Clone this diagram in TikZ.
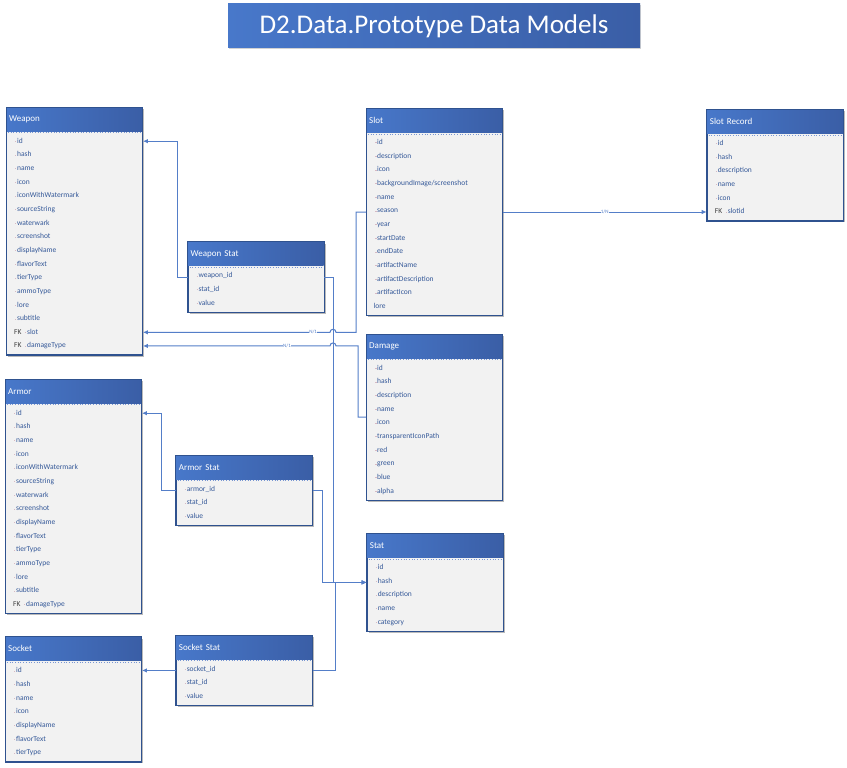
\documentclass[tikz,border=0pt]{standalone}
\usepackage{fontspec}
\setmainfont{Carlito}
\usetikzlibrary{calc,shadows,arrows.meta}
\definecolor{hdrL}{RGB}{72,120,202}
\definecolor{hdrR}{RGB}{58,94,166}
\definecolor{bodyc}{RGB}{242,242,242}
\definecolor{bordc}{RGB}{47,82,143}
\definecolor{rowc}{RGB}{52,88,152}
\definecolor{connc}{RGB}{84,126,200}
\definecolor{dotc}{RGB}{120,150,210}
\definecolor{tickc}{RGB}{215,185,195}
\makeatletter
\newcommand\tickmk{\textcolor{tickc}{\rule[1.6bp]{1.3bp}{0.5bp}}\kern0.6bp}
\newcommand\fk[1]{\makebox[10bp][l]{\kern-1bp\textcolor{black!75}{FK}}\tickmk#1}
\newcommand\nt{\kern-1.5bp}
\newcommand\tkx{\@ifnextchar\fk{}{\@ifnextchar\nt{}{\tickmk}}}
\makeatother
\tikzset{
 tbody/.style={draw=bordc, line width=0.9bp, fill=bodyc, minimum width=136bp, anchor=north west, inner sep=0pt,
   drop shadow={shadow xshift=1.6bp, shadow yshift=-1.6bp, fill=black!45, opacity=0.6}},
 thead/.style={left color=hdrL, right color=hdrR, minimum width=136bp, minimum height=24bp, anchor=north west,
   inner xsep=3bp, inner ysep=0pt, text width=130bp, align=left, text=white, font=\fontsize{9bp}{10bp}\selectfont},
 trow/.style={anchor=west, inner sep=0pt, text height=5.5bp, text depth=1.5bp, text=rowc, font=\fontsize{7.5bp}{8bp}\selectfont},
 conn/.style={draw=connc, line width=1bp},
 arr/.style={-{Latex[length=5bp,width=4.5bp]}},
 card/.style={font=\fontsize{5bp}{5bp}\selectfont, text=connc, fill=white, inner sep=0.4bp},
 titlebox/.style={left color=hdrL, right color=hdrR, minimum width=412bp, minimum height=44bp, inner sep=0pt,
   text=white, font=\fontsize{27bp}{30bp}\selectfont,
   drop shadow={shadow xshift=1.2bp, shadow yshift=-1.2bp, fill=black!35, opacity=0.5}},
}
\newcommand\erd[6]{%
 \node[tbody, minimum height={42.7bp+(#4-1)*13.65bp}] (#1) at (#2,#3) {};
 \node[thead] (#1-h) at (#2,#3) {#5};
 \draw[dotc, dotted, line width=0.7bp] ($(#1.north west)+(2,25.8)$) -- ($(#1.north east)+(-2,25.8)$);
 \foreach \rowtxt [count=\i] in {#6}{
   \pgfmathsetmacro\rowy{34.2+(\i-1)*13.65}
   \node[trow] (#1-\i) at ($(#1.north west)+(9,\rowy)$) {\expandafter\tkx\rowtxt};
 }
 \draw[bordc, line width=0.9bp] (#1.north west) rectangle (#1.south east);
}
\begin{document}
\begin{tikzpicture}[x=1bp,y=-1bp]
\useasboundingbox (0,0) rectangle (847,768);
\fill[white] (0,0) rectangle (847,768);

\node[titlebox] (title) at (434,26) {D2.Data.Prototype Data Models};

\erd{weapon}{6}{107}{16}{Weapon}{id,hash,name,icon,iconWithWatermark,sourceString,waterwark,screenshot,displayName,flavorText,tierType,ammoType,lore,subtitle,\fk{slot},\fk{damageType}}
\erd{wstat}{187.5}{241.7}{3}{Weapon Stat}{weapon\_id,stat\_id,value}
\erd{slot}{366}{108.3}{13}{Slot}{id,description,icon,backgroundImage/screenshot,name,season,year,startDate,endDate,artifactName,artifactDescription,artifactIcon,\nt lore}
\erd{slotrec}{706.7}{109.3}{6}{Slot Record}{id,hash,description,name,icon,\fk{slotid}}
\erd{damage}{366}{334}{10}{Damage}{id,hash,description,name,icon,transparentIconPath,red,green,blue,alpha}
\erd{armor}{5}{379}{15}{Armor}{id,hash,name,icon,iconWithWatermark,sourceString,waterwark,screenshot,displayName,flavorText,tierType,ammoType,lore,subtitle,\fk{damageType}}
\erd{astat}{175.7}{455}{3}{Armor Stat}{armor\_id,stat\_id,value}
\erd{stat}{366.7}{533.3}{5}{Stat}{id,hash,description,name,category}
\erd{socket}{5}{636.7}{7}{Socket}{id,hash,name,icon,displayName,flavorText,tierType}
\erd{sstat}{175.7}{635}{3}{Socket Stat}{socket\_id,stat\_id,value}

\coordinate (busA) at (333,0);
\coordinate (busB) at (322,0);
\coordinate (busC) at (335,0);
\coordinate (hop1) at (weapon-15 -| busA);
\coordinate (hop2) at (weapon-16 -| busA);

% stat links
\draw[conn,arr] (wstat.east) -| (busA |- stat.west) -- (stat.west);
\draw[conn,arr] (astat.east) -| (busB |- stat.west) -- (stat.west);
\draw[conn,arr] (sstat.east) -| (busC |- stat.west) -- (stat.west);
% owners
\draw[conn,arr] (wstat.west) -- ++(-10.5,0) |- (weapon-1 -| weapon.east);
\draw[conn,arr] (astat.west) -- ++(-14.7,0) |- (armor-1 -| armor.east);
\draw[conn,arr] (sstat.west) -- (sstat.west -| socket.east);
% slot / damage to weapon
\draw[conn,arr] (slot.west) -- ++(-10,0) |- ($(hop1)+(3,0)$)
  .. controls ($(hop1)+(3,-4)$) and ($(hop1)+(-3,-4)$) .. ($(hop1)+(-3,0)$)
  -- node[card,pos=0.09]{N/1} (weapon-15 -| weapon.east);
\draw[conn,arr] (damage.west) -- ++(-8,0) |- ($(hop2)+(3,0)$)
  .. controls ($(hop2)+(3,-4)$) and ($(hop2)+(-3,-4)$) .. ($(hop2)+(-3,0)$)
  -- node[card,pos=0.23]{N/1} (weapon-16 -| weapon.east);
% slot to slot record
\draw[conn,arr] (slot.east) -- node[card,pos=0.5]{1/N} (slot.east -| slotrec.west);
\end{tikzpicture}
\end{document}
